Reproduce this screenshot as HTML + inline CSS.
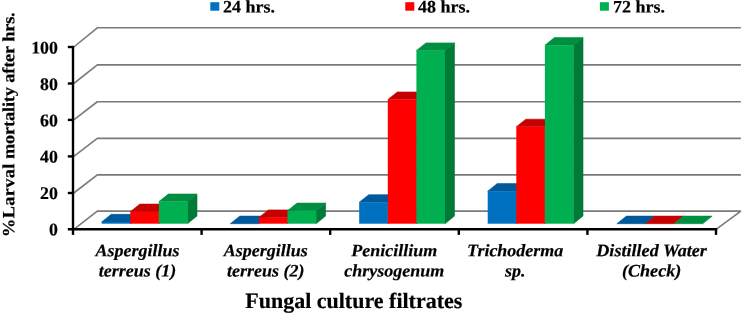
<!DOCTYPE html>
<html lang="en">
<head>
<meta charset="utf-8">
<title>Fungal culture filtrates - larval mortality chart</title>
<style>
html,body{margin:0;padding:0;background:#fff;}
body{width:742px;height:313px;overflow:hidden;}
svg{display:block;}
text{font-family:"Liberation Serif","Times New Roman",serif;font-weight:bold;fill:#000;stroke:#000;stroke-width:0.2px;stroke-linejoin:round;text-rendering:geometricPrecision;}
.cat{font-style:italic;}
</style>
</head>
<body>
<svg width="742" height="313" viewBox="0 0 742 313">
<rect x="0" y="0" width="742" height="313" fill="#ffffff"/>
<g fill="none" stroke="#7a7a7a" stroke-width="1.6" stroke-linejoin="round">
<polyline points="73.8,229.3 97.3,211.15 740.9,211.15"/>
<polyline points="73.8,193.0 97.3,174.90 740.9,174.90"/>
<polyline points="73.8,156.4 97.3,138.40 740.9,138.40"/>
<polyline points="73.8,119.9 97.3,101.75 740.9,101.75"/>
<polyline points="73.8,83.5 97.3,64.90 740.9,64.90"/>
<polyline points="73.8,47.0 97.3,27.80 740.9,27.80"/>
<line x1="716.0" y1="229.3" x2="740.9" y2="211.2"/>
</g>
<g stroke="none">
<polygon fill="#004B81" stroke="#004B81" stroke-width="0.6" stroke-linejoin="round" points="130.3,221.9 139.8,214.3 139.8,216.1 130.3,223.7"/>
<polygon fill="#00599A" stroke="#00599A" stroke-width="0.6" stroke-linejoin="round" points="101.7,221.9 111.2,214.3 139.8,214.3 130.3,221.9"/>
<rect fill="#0070C0" x="101.7" y="221.9" width="28.6" height="1.8"/>
<polygon fill="#A00000" stroke="#A00000" stroke-width="0.6" stroke-linejoin="round" points="158.9,211.7 168.4,204.1 168.4,216.1 158.9,223.7"/>
<polygon fill="#C40000" stroke="#C40000" stroke-width="0.6" stroke-linejoin="round" points="130.3,211.7 139.8,204.1 168.4,204.1 158.9,211.7"/>
<rect fill="#FF0000" x="130.3" y="211.7" width="28.6" height="12.0"/>
<polygon fill="#007A37" stroke="#007A37" stroke-width="0.6" stroke-linejoin="round" points="187.5,201.6 197.0,194.0 197.0,216.1 187.5,223.7"/>
<polygon fill="#008E40" stroke="#008E40" stroke-width="0.6" stroke-linejoin="round" points="158.9,201.6 168.4,194.0 197.0,194.0 187.5,201.6"/>
<rect fill="#00B050" x="158.9" y="201.6" width="28.6" height="22.1"/>
<polygon fill="#00599A" stroke="#00599A" stroke-width="0.6" stroke-linejoin="round" points="230.3,223.7 239.8,216.1 268.4,216.1 258.9,223.7"/>
<polygon fill="#A00000" stroke="#A00000" stroke-width="0.6" stroke-linejoin="round" points="287.5,217.5 297.0,209.9 297.0,216.1 287.5,223.7"/>
<polygon fill="#C40000" stroke="#C40000" stroke-width="0.6" stroke-linejoin="round" points="258.9,217.5 268.4,209.9 297.0,209.9 287.5,217.5"/>
<rect fill="#FF0000" x="258.9" y="217.5" width="28.6" height="6.2"/>
<polygon fill="#007A37" stroke="#007A37" stroke-width="0.6" stroke-linejoin="round" points="316.1,210.7 325.6,203.1 325.6,216.1 316.1,223.7"/>
<polygon fill="#008E40" stroke="#008E40" stroke-width="0.6" stroke-linejoin="round" points="287.5,210.7 297.0,203.1 325.6,203.1 316.1,210.7"/>
<rect fill="#00B050" x="287.5" y="210.7" width="28.6" height="13.0"/>
<polygon fill="#004B81" stroke="#004B81" stroke-width="0.6" stroke-linejoin="round" points="387.8,202.3 397.3,194.7 397.3,216.1 387.8,223.7"/>
<polygon fill="#00599A" stroke="#00599A" stroke-width="0.6" stroke-linejoin="round" points="359.2,202.3 368.7,194.7 397.3,194.7 387.8,202.3"/>
<rect fill="#0070C0" x="359.2" y="202.3" width="28.6" height="21.4"/>
<polygon fill="#A00000" stroke="#A00000" stroke-width="0.6" stroke-linejoin="round" points="416.4,99.6 425.9,92.0 425.9,216.1 416.4,223.7"/>
<polygon fill="#C40000" stroke="#C40000" stroke-width="0.6" stroke-linejoin="round" points="387.8,99.6 397.3,92.0 425.9,92.0 416.4,99.6"/>
<rect fill="#FF0000" x="387.8" y="99.6" width="28.6" height="124.1"/>
<polygon fill="#007A37" stroke="#007A37" stroke-width="0.6" stroke-linejoin="round" points="445.0,50.5 454.5,42.9 454.5,216.1 445.0,223.7"/>
<polygon fill="#008E40" stroke="#008E40" stroke-width="0.6" stroke-linejoin="round" points="416.4,50.5 425.9,42.9 454.5,42.9 445.0,50.5"/>
<rect fill="#00B050" x="416.4" y="50.5" width="28.6" height="173.2"/>
<polygon fill="#004B81" stroke="#004B81" stroke-width="0.6" stroke-linejoin="round" points="516.3,191.2 525.8,183.6 525.8,216.1 516.3,223.7"/>
<polygon fill="#00599A" stroke="#00599A" stroke-width="0.6" stroke-linejoin="round" points="487.7,191.2 497.2,183.6 525.8,183.6 516.3,191.2"/>
<rect fill="#0070C0" x="487.7" y="191.2" width="28.6" height="32.5"/>
<polygon fill="#A00000" stroke="#A00000" stroke-width="0.6" stroke-linejoin="round" points="544.9,126.8 554.4,119.2 554.4,216.1 544.9,223.7"/>
<polygon fill="#C40000" stroke="#C40000" stroke-width="0.6" stroke-linejoin="round" points="516.3,126.8 525.8,119.2 554.4,119.2 544.9,126.8"/>
<rect fill="#FF0000" x="516.3" y="126.8" width="28.6" height="96.9"/>
<polygon fill="#007A37" stroke="#007A37" stroke-width="0.6" stroke-linejoin="round" points="573.5,45.2 583.0,37.6 583.0,216.1 573.5,223.7"/>
<polygon fill="#008E40" stroke="#008E40" stroke-width="0.6" stroke-linejoin="round" points="544.9,45.2 554.4,37.6 583.0,37.6 573.5,45.2"/>
<rect fill="#00B050" x="544.9" y="45.2" width="28.6" height="178.5"/>
<polygon fill="#00599A" stroke="#00599A" stroke-width="0.6" stroke-linejoin="round" points="616.9,223.7 626.4,216.1 655.0,216.1 645.5,223.7"/>
<polygon fill="#C40000" stroke="#C40000" stroke-width="0.6" stroke-linejoin="round" points="645.5,223.7 655.0,216.1 683.6,216.1 674.1,223.7"/>
<polygon fill="#008E40" stroke="#008E40" stroke-width="0.6" stroke-linejoin="round" points="674.1,223.7 683.6,216.1 712.2,216.1 702.7,223.7"/>
</g>
<g fill="none" stroke="#000" stroke-width="2.4">
<line x1="73.0" y1="45.9" x2="73.0" y2="234.9"/>
<line x1="67.8" y1="229.3" x2="717.2" y2="229.3"/>
<line x1="67.8" y1="193.0" x2="73.0" y2="193.0"/>
<line x1="67.8" y1="156.4" x2="73.0" y2="156.4"/>
<line x1="67.8" y1="119.9" x2="73.0" y2="119.9"/>
<line x1="67.8" y1="83.5" x2="73.0" y2="83.5"/>
<line x1="67.8" y1="47.0" x2="73.0" y2="47.0"/>
<line x1="201.6" y1="229.3" x2="201.6" y2="234.9"/>
<line x1="330.2" y1="229.3" x2="330.2" y2="234.9"/>
<line x1="458.8" y1="229.3" x2="458.8" y2="234.9"/>
<line x1="587.4" y1="229.3" x2="587.4" y2="234.9"/>
<line x1="716.0" y1="229.3" x2="716.0" y2="234.9"/>
</g>
<text transform="translate(57.8,235.3) skewY(0.03)" text-anchor="end" font-size="17.80px">0</text>
<text transform="translate(57.8,199.1) skewY(0.03)" text-anchor="end" font-size="17.80px">20</text>
<text transform="translate(57.8,162.6) skewY(0.03)" text-anchor="end" font-size="17.80px">40</text>
<text transform="translate(57.8,126.2) skewY(0.03)" text-anchor="end" font-size="17.80px">60</text>
<text transform="translate(57.8,89.9) skewY(0.03)" text-anchor="end" font-size="17.80px">80</text>
<text transform="translate(57.8,53.5) skewY(0.03)" text-anchor="end" font-size="17.80px">100</text>
<rect x="210.3" y="2.2" width="9.0" height="8.5" fill="#0070C0"/>
<text transform="translate(223.0,12.6) scale(1.025,1) skewY(0.03)" text-anchor="start" font-size="17.56px">24 hrs.</text>
<rect x="405.3" y="2.2" width="9.0" height="8.5" fill="#FF0000"/>
<text transform="translate(418.0,12.6) scale(1.025,1) skewY(0.03)" text-anchor="start" font-size="17.56px">48 hrs.</text>
<rect x="599.9" y="2.2" width="9.0" height="8.5" fill="#00B050"/>
<text transform="translate(613.0,12.6) scale(1.025,1) skewY(0.03)" text-anchor="start" font-size="17.56px">72 hrs.</text>
<text class="cat" transform="translate(137.4,256.2) scale(1.025,1) skewY(0.03)" text-anchor="middle" font-size="17.56px">Aspergillus</text>
<text class="cat" transform="translate(137.4,276.5) scale(1.025,1) skewY(0.03)" text-anchor="middle" font-size="17.56px">terreus (1)</text>
<text class="cat" transform="translate(265.8,256.2) scale(1.025,1) skewY(0.03)" text-anchor="middle" font-size="17.56px">Aspergillus</text>
<text class="cat" transform="translate(265.8,276.5) scale(1.025,1) skewY(0.03)" text-anchor="middle" font-size="17.56px">terreus (2)</text>
<text class="cat" transform="translate(394.2,256.2) scale(1.025,1) skewY(0.03)" text-anchor="middle" font-size="17.56px">Penicillium</text>
<text class="cat" transform="translate(394.2,276.5) scale(1.025,1) skewY(0.03)" text-anchor="middle" font-size="17.56px">chrysogenum</text>
<text class="cat" transform="translate(515.2,256.2) scale(1.025,1) skewY(0.03)" text-anchor="middle" font-size="17.56px">Trichoderma</text>
<text class="cat" transform="translate(515.2,276.5) scale(1.025,1) skewY(0.03)" text-anchor="middle" font-size="17.56px">sp.</text>
<text class="cat" transform="translate(651.6,256.2) scale(1.025,1) skewY(0.03)" text-anchor="middle" font-size="17.71px">Distilled Water</text>
<text class="cat" transform="translate(651.6,276.5) scale(1.025,1) skewY(0.03)" text-anchor="middle" font-size="17.71px">(Check)</text>
<text transform="translate(353.8,308.0) skewY(0.03)" text-anchor="middle" font-size="22.00px">Fungal culture filtrates</text>
<text transform="translate(14.3,124.7) rotate(-90) scale(1.07,1) skewY(0.03)" text-anchor="middle" font-size="17.14px"><tspan letter-spacing="0.30">%Larval</tspan><tspan letter-spacing="-0.15"> mortality after hrs.</tspan></text>
</svg>
</body>
</html>
